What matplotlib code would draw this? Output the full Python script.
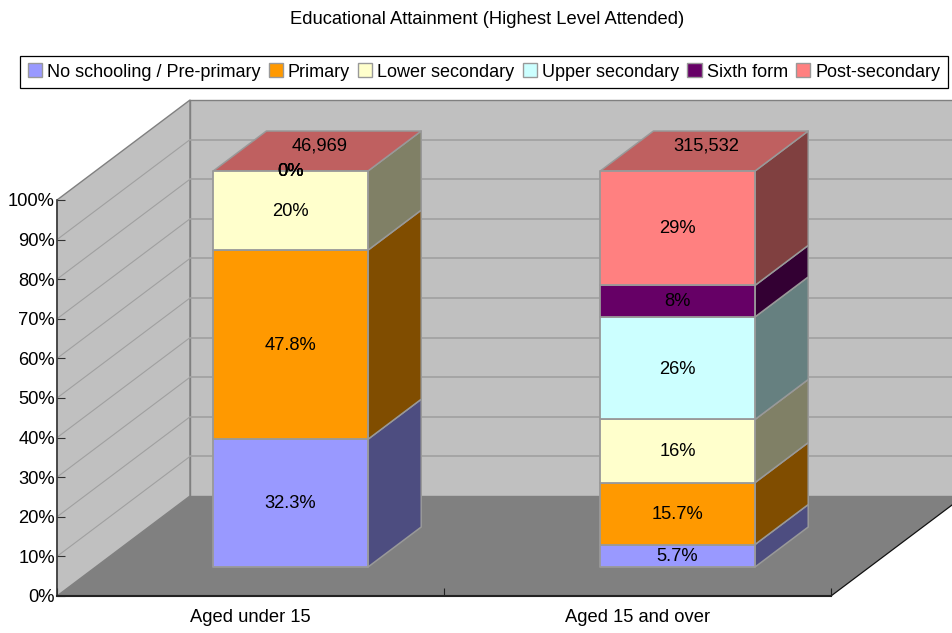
import matplotlib
matplotlib.use("Agg")
import matplotlib.pyplot as plt
from matplotlib.patches import Patch, Polygon
import numpy as np

plt.rcParams["font.family"] = ["Liberation Sans", "DejaVu Sans"]

# data
grupos = ["Aged under 15", "Aged 15 and over"]
niveis = ["No schooling / Pre-primary", "Primary", "Lower secondary",
          "Upper secondary", "Sixth form", "Post-secondary"]
sob_15 = [32.3, 47.8, 20, 0, 0, 0]
acima_15 = [5.7, 15.7, 16, 26, 8, 29]
totais = [46969, 315532]
cores = ["#9999FF", "#FF9900", "#FFFFCC", "#CCFFFF", "#660066", "#FF8080"]

# profundidade do falso 3D, em unidades dos eixos
DX = 133 / 387
DY = 100 / 396 * 100
LARGURA = 0.4
D_FRENTE = 0.29
D_FUNDO = 0.69
DESVIO = 0.004
W, H = 953, 633
FONTE = 13.2


def proj(x, y, d):
    return (x + d * DX, y + d * DY)


def poligono(ax, pontos, cor, borda="none", lw=0, z=1):
    ax.add_patch(Polygon(pontos, closed=True, facecolor=cor, edgecolor=borda,
                         linewidth=lw, clip_on=False, zorder=z, joinstyle="round"))


def escurece(cor, f):
    r, g, b = matplotlib.colors.to_rgb(cor)
    return (r * f, g * f, b * f)


fig = plt.figure(figsize=(W / 100, H / 100), dpi=100)
ax = fig.add_axes([57 / W, 1 - 596 / H, 774 / W, 396 / H])
ax.set_xlim(0, 2)
ax.set_ylim(0, 100)
ax.patch.set_visible(False)

# paredes e chao
poligono(ax, [proj(0, 0, 0), proj(0, 0, 1), proj(0, 100, 1), proj(0, 100, 0)],
         "#C0C0C0", "#808080", 1.0)
poligono(ax, [proj(0, 0, 1), proj(2, 0, 1), proj(2, 100, 1), proj(0, 100, 1)],
         "#C0C0C0", "#808080", 1.0)
poligono(ax, [proj(0, 0, 0), proj(2, 0, 0), proj(2, 0, 1), proj(0, 0, 1)], "#808080", z=1.5)
ax.plot(*zip(proj(2, 0, 0), proj(2, 0, 1)), color="#111111", lw=0.9, clip_on=False, zorder=2)

for v in np.arange(10, 100, 10):
    ax.plot(*zip(proj(0, v, 0), proj(0, v, 1)), color="#A0A0A0", lw=0.8, clip_on=False, zorder=1.2)
    ax.plot(*zip(proj(0, v, 1), proj(2, v, 1)), color="#A0A0A0", lw=1.2, clip_on=False, zorder=1.2)

# barras empilhadas
for i, valores in enumerate([sob_15, acima_15]):
    valores = np.array(valores, dtype=float)
    pct = valores / valores.sum() * 100
    base = np.concatenate(([0], np.cumsum(pct)[:-1]))
    centro = i + 0.5 + DESVIO
    x0 = centro - LARGURA / 2
    x1 = centro + LARGURA / 2
    for p, b, cor in zip(pct, base, cores):
        if p == 0:
            continue
        t = b + p
        poligono(ax, [proj(x1, b, D_FRENTE), proj(x1, b, D_FUNDO),
                      proj(x1, t, D_FUNDO), proj(x1, t, D_FRENTE)],
                 escurece(cor, 0.5), "#999999", 1.1, z=3)
        poligono(ax, [proj(x0, b, D_FRENTE), proj(x1, b, D_FRENTE),
                      proj(x1, t, D_FRENTE), proj(x0, t, D_FRENTE)],
                 cor, "#999999", 1.3, z=3.5)
    poligono(ax, [proj(x0, 100, D_FRENTE), proj(x1, 100, D_FRENTE),
                  proj(x1, 100, D_FUNDO), proj(x0, 100, D_FUNDO)],
             escurece(cores[-1], 0.75), "#999999", 1.1, z=3.2)
    # rotulos
    for v, p, b in zip(valores, pct, base):
        cx, cy = proj(centro, b + p / 2, D_FRENTE)
        ax.text(cx, cy - 0.2, f"{v:g}%", ha="center", va="center", fontsize=FONTE,
                color="black", zorder=5, clip_on=False)
    cx, cy = proj(centro, 100, (D_FRENTE + D_FUNDO) / 2)
    ax.text(cx + 0.006, cy + 1.3, f"{totais[i]:,}", ha="center", va="center",
            fontsize=FONTE, color="black", zorder=5, clip_on=False)

# eixos
for lado in ["top", "right"]:
    ax.spines[lado].set_visible(False)
ax.spines["left"].set_color("#333333")
ax.spines["left"].set_linewidth(1.1)
ax.spines["bottom"].set_color("#222222")
ax.spines["bottom"].set_linewidth(1.5)
for s in ax.spines.values():
    s.set_zorder(4)

ax.set_yticks(np.arange(0, 101, 10))
ax.set_yticklabels([f"{v}%" for v in range(0, 101, 10)], fontsize=FONTE)
ax.tick_params(axis="y", direction="in", length=5.5, width=0.8, color="#333333", pad=1.5)
ax.set_xticks([0, 1, 2])
ax.set_xticklabels([])
ax.set_xticks([0.5, 1.5], minor=True)
ax.set_xticklabels(grupos, minor=True, fontsize=FONTE)
ax.tick_params(axis="x", which="major", direction="in", length=5.5, width=0.8, color="#222222")
ax.tick_params(axis="x", which="minor", length=0, pad=9)

fig.text(487 / W, 1 - 19.5 / H, "Educational Attainment (Highest Level Attended)",
         ha="center", va="center", fontsize=FONTE, color="black")

alcas = [Patch(facecolor=c, edgecolor="#999999", linewidth=1.0) for c in cores]
leg = fig.legend(alcas, niveis, ncol=6, loc="center", fontsize=13,
                 bbox_to_anchor=(484 / W, 1 - 72 / H), frameon=True, fancybox=False,
                 edgecolor="black", framealpha=1, handlelength=0.78, handleheight=0.78,
                 handletextpad=0.28, columnspacing=0.46, borderpad=0.42, borderaxespad=0)
leg.get_frame().set_linewidth(0.9)

plt.savefig("out.png", dpi=100)
